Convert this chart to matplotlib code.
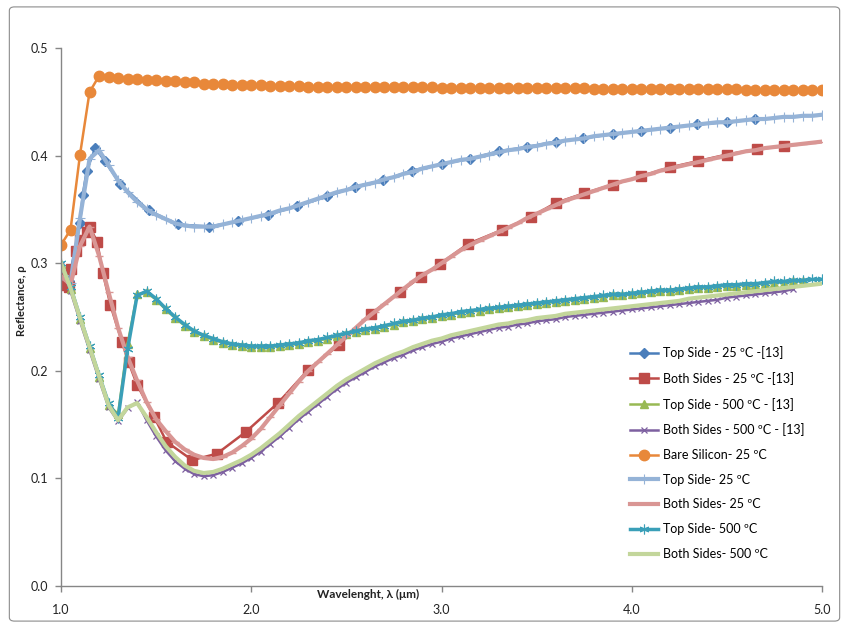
import matplotlib
matplotlib.use("Agg")
import matplotlib.pyplot as plt
import numpy as np
from matplotlib.patches import FancyBboxPatch

plt.rcParams["font.family"] = ["Lato", "DejaVu Sans"]

# simulated curves share a 0.05 um wavelength grid
WL = np.round(np.arange(1.0, 5.001, 0.05), 2)

# reference [13] data
top25_ref_wl = [1.00, 1.04, 1.10, 1.114, 1.135, 1.18, 1.23, 1.31, 1.46, 1.615, 1.78, 1.93, 2.09, 2.24, 2.40,
                2.545, 2.694, 2.843, 3.00, 3.15, 3.30, 3.45, 3.60, 3.745, 3.90, 4.05, 4.20, 4.345, 4.50, 4.65]
top25_ref = [0.285, 0.283, 0.337, 0.363, 0.386, 0.407, 0.395, 0.374, 0.349, 0.336, 0.334, 0.339, 0.345, 0.353, 0.362,
             0.371, 0.377, 0.386, 0.392, 0.397, 0.404, 0.408, 0.413, 0.416, 0.420, 0.423, 0.426, 0.429, 0.431, 0.434]

both25_ref_wl = [1.00, 1.01, 1.04, 1.055, 1.08, 1.10, 1.135, 1.15, 1.19, 1.22, 1.26, 1.32, 1.355, 1.40, 1.49,
                 1.555, 1.69, 1.82, 1.97, 2.14, 2.30, 2.46, 2.63, 2.78, 2.89, 2.99, 3.14, 3.32, 3.47, 3.60,
                 3.75, 3.90, 4.05, 4.20, 4.35, 4.50, 4.66, 4.80]
both25_ref = [0.286, 0.280, 0.278, 0.295, 0.311, 0.322, 0.329, 0.334, 0.320, 0.291, 0.261, 0.227, 0.208, 0.187, 0.157,
              0.134, 0.117, 0.123, 0.143, 0.170, 0.201, 0.224, 0.253, 0.273, 0.287, 0.299, 0.318, 0.331, 0.343, 0.356,
              0.365, 0.373, 0.381, 0.389, 0.395, 0.401, 0.406, 0.409]

top500_ref = [0.299, 0.276, 0.248, 0.221, 0.194, 0.168, 0.160, 0.225, 0.271, 0.273,
              0.266, 0.257, 0.249, 0.242, 0.236, 0.232, 0.229, 0.226, 0.224, 0.223,
              0.222, 0.222, 0.222, 0.223, 0.224, 0.225, 0.227, 0.228, 0.230, 0.232,
              0.234, 0.236, 0.238, 0.239, 0.241, 0.243, 0.245, 0.246, 0.248, 0.249,
              0.251, 0.252, 0.254, 0.255, 0.256, 0.257, 0.258, 0.259, 0.260, 0.261,
              0.262, 0.263, 0.264, 0.265, 0.266, 0.267, 0.268, 0.269, 0.270, 0.270,
              0.271, 0.272, 0.273, 0.274, 0.274, 0.275, 0.276, 0.277, 0.277, 0.278,
              0.279, 0.279, 0.280, 0.280, 0.281, 0.282, 0.282, 0.283, 0.283]

both500_ref = [0.298, 0.274, 0.246, 0.219, 0.192, 0.166, 0.153, 0.165, 0.171, 0.154,
               0.139, 0.126, 0.116, 0.109, 0.104, 0.102, 0.103, 0.106, 0.110, 0.114,
               0.119, 0.125, 0.132, 0.139, 0.147, 0.155, 0.162, 0.169, 0.176, 0.183,
               0.189, 0.194, 0.199, 0.204, 0.208, 0.212, 0.215, 0.219, 0.222, 0.225,
               0.227, 0.230, 0.232, 0.234, 0.236, 0.238, 0.240, 0.241, 0.243, 0.244,
               0.246, 0.247, 0.248, 0.250, 0.251, 0.252, 0.253, 0.254, 0.255, 0.256,
               0.257, 0.258, 0.259, 0.260, 0.261, 0.262, 0.263, 0.264, 0.265, 0.266,
               0.268, 0.269, 0.270, 0.271, 0.272, 0.273, 0.274, 0.276]

# simulations on the WL grid
bare_si = [0.317, 0.331, 0.401, 0.459, 0.474, 0.473, 0.472, 0.471, 0.471, 0.470,
           0.470, 0.469, 0.469, 0.468, 0.468, 0.467, 0.467, 0.467, 0.466, 0.466,
           0.466, 0.466, 0.465, 0.465, 0.465, 0.465, 0.464, 0.464, 0.464, 0.464,
           0.464, 0.464, 0.464, 0.464, 0.464, 0.464, 0.464, 0.464, 0.464, 0.464,
           0.463, 0.463, 0.463, 0.463, 0.463, 0.463, 0.463, 0.463, 0.463, 0.463,
           0.463, 0.463, 0.463, 0.463, 0.463, 0.463, 0.462, 0.462, 0.462, 0.462,
           0.462, 0.462, 0.462, 0.462, 0.462, 0.462, 0.462, 0.462, 0.462, 0.462,
           0.462, 0.462, 0.461, 0.461, 0.461, 0.461, 0.461, 0.461, 0.461, 0.461,
           0.461]

top25_sim = [0.287, 0.282, 0.342, 0.397, 0.405, 0.391, 0.377, 0.366, 0.357, 0.350,
             0.345, 0.341, 0.337, 0.335, 0.334, 0.334, 0.334, 0.336, 0.338, 0.340,
             0.342, 0.344, 0.346, 0.349, 0.351, 0.354, 0.357, 0.360, 0.363, 0.366,
             0.368, 0.371, 0.373, 0.375, 0.378, 0.380, 0.383, 0.385, 0.388, 0.390,
             0.392, 0.394, 0.396, 0.397, 0.399, 0.401, 0.403, 0.405, 0.406, 0.408,
             0.409, 0.411, 0.412, 0.414, 0.415, 0.416, 0.418, 0.419, 0.420, 0.421,
             0.422, 0.423, 0.424, 0.425, 0.426, 0.427, 0.428, 0.429, 0.430, 0.431,
             0.431, 0.432, 0.433, 0.434, 0.434, 0.435, 0.436, 0.436, 0.437, 0.437,
             0.438]

both25_sim = [0.288, 0.280, 0.316, 0.334, 0.307, 0.273, 0.240, 0.213, 0.191, 0.171,
              0.155, 0.144, 0.134, 0.127, 0.122, 0.119, 0.118, 0.120, 0.124, 0.130,
              0.137, 0.146, 0.157, 0.168, 0.179, 0.190, 0.200, 0.208, 0.216, 0.224,
              0.232, 0.240, 0.248, 0.255, 0.262, 0.269, 0.276, 0.283, 0.289, 0.294,
              0.300, 0.306, 0.312, 0.317, 0.321, 0.325, 0.329, 0.333, 0.337, 0.342,
              0.346, 0.350, 0.354, 0.358, 0.361, 0.364, 0.367, 0.370, 0.373, 0.376,
              0.378, 0.381, 0.383, 0.386, 0.388, 0.390, 0.392, 0.394, 0.396, 0.398,
              0.400, 0.402, 0.404, 0.405, 0.407, 0.408, 0.409, 0.410, 0.411, 0.412,
              0.413]

top500_sim = [0.300, 0.278, 0.250, 0.223, 0.196, 0.170, 0.156, 0.220, 0.270, 0.274,
              0.267, 0.258, 0.250, 0.243, 0.237, 0.233, 0.230, 0.227, 0.225, 0.224,
              0.223, 0.223, 0.223, 0.224, 0.225, 0.226, 0.228, 0.229, 0.231, 0.233,
              0.235, 0.237, 0.239, 0.240, 0.242, 0.244, 0.246, 0.247, 0.249, 0.250,
              0.252, 0.253, 0.255, 0.256, 0.257, 0.258, 0.259, 0.260, 0.261, 0.262,
              0.263, 0.264, 0.265, 0.266, 0.267, 0.268, 0.269, 0.270, 0.271, 0.271,
              0.272, 0.273, 0.274, 0.275, 0.275, 0.276, 0.277, 0.278, 0.278, 0.279,
              0.280, 0.280, 0.281, 0.281, 0.282, 0.283, 0.283, 0.284, 0.284, 0.285,
              0.285]

both500_sim = [0.300, 0.277, 0.249, 0.222, 0.195, 0.168, 0.154, 0.166, 0.170, 0.157,
               0.143, 0.130, 0.120, 0.112, 0.107, 0.105, 0.106, 0.109, 0.113, 0.117,
               0.122, 0.128, 0.135, 0.142, 0.150, 0.158, 0.165, 0.172, 0.179, 0.186,
               0.192, 0.197, 0.202, 0.207, 0.211, 0.215, 0.218, 0.222, 0.225, 0.228,
               0.230, 0.233, 0.235, 0.237, 0.239, 0.241, 0.243, 0.244, 0.246, 0.247,
               0.249, 0.250, 0.251, 0.253, 0.254, 0.255, 0.256, 0.257, 0.258, 0.259,
               0.260, 0.261, 0.262, 0.263, 0.264, 0.265, 0.267, 0.268, 0.269, 0.270,
               0.271, 0.272, 0.273, 0.274, 0.275, 0.276, 0.277, 0.278, 0.279, 0.280,
               0.281]

fig = plt.figure(figsize=(8.49, 6.28), dpi=100)
fig.patches.append(FancyBboxPatch((0.011, 0.011), 0.978, 0.978, boxstyle="round,pad=0,rounding_size=0.006",
                                  transform=fig.transFigure, facecolor="none", edgecolor="#8c8c8c", linewidth=0.8))
ax = fig.add_axes([61 / 849, 1 - 586 / 628, 761 / 849, 538 / 628])

asterisk = (6, 2, 0)
ax.plot(top25_ref_wl, top25_ref, color="#4a7ebb", lw=1.8, marker="D", ms=5, label="Top Side - 25 ºC -[13]")
ax.plot(both25_ref_wl, both25_ref, color="#be4b48", lw=1.8, marker="s", ms=7, label="Both Sides - 25 ºC -[13]")
ax.plot(WL[:len(top500_ref)], top500_ref, color="#98b954", lw=1.8, marker="^", ms=5.5, label="Top Side - 500 ºC - [13]")
ax.plot(WL[:len(both500_ref)], both500_ref, color="#7d60a0", lw=1.8, marker="x", ms=5, mew=0.9,
        label="Both Sides - 500 ºC - [13]")
ax.plot(WL, bare_si, color="#e8883a", lw=1.8, marker="o", ms=7.5, label="Bare Silicon- 25 ºC")
ax.plot(WL, top25_sim, color="#95b3d7", lw=3, marker="+", ms=7, mew=0.8, label="Top Side- 25 ºC")
ax.plot(WL, both25_sim, color="#d99694", lw=3, marker="_", ms=6, mew=1, label="Both Sides- 25 ºC")
ax.plot(WL, top500_sim, color="#3a9fb8", lw=2.5, marker=asterisk, ms=7, mew=0.8, label="Top Side- 500 ºC")
ax.plot(WL, both500_sim, color="#c3d69b", lw=3, label="Both Sides- 500 ºC")

ax.set_xlim(1.0, 5.0)
ax.set_ylim(0.0, 0.5)
ax.set_xticks([1.0, 2.0, 3.0, 4.0, 5.0])
ax.set_yticks([0.0, 0.1, 0.2, 0.3, 0.4, 0.5])
ax.xaxis.set_major_formatter(matplotlib.ticker.FormatStrFormatter("%.1f"))
ax.yaxis.set_major_formatter(matplotlib.ticker.FormatStrFormatter("%.1f"))
for side in ["top", "right"]:
    ax.spines[side].set_visible(False)
for side in ["left", "bottom"]:
    ax.spines[side].set_color("#868686")
    ax.spines[side].set_linewidth(1.0)
ax.tick_params(axis="both", direction="out", length=4, width=1, color="#868686", labelsize=9,
               labelcolor="#222222")
ax.tick_params(axis="x", pad=9)
ax.tick_params(axis="y", pad=5)

ax.set_xlabel("Wavelenght, λ (μm)", fontsize=8.5, fontweight="bold", color="#222222")
ax.xaxis.set_label_coords(0.403, -0.005)
ax.xaxis.label.set_va("top")
ax.set_ylabel("Reflectance, ρ", fontsize=8, fontweight="bold", color="#222222")
ax.yaxis.set_label_coords(-0.045, 0.53)

ax.legend(loc="upper left", bbox_to_anchor=(635 / 849, 1 - 348 / 628), frameon=False, fontsize=9,
          handlelength=2.2, handletextpad=0.45, labelspacing=1.02, borderpad=0, borderaxespad=0)

fig.savefig("out.png", dpi=100)
